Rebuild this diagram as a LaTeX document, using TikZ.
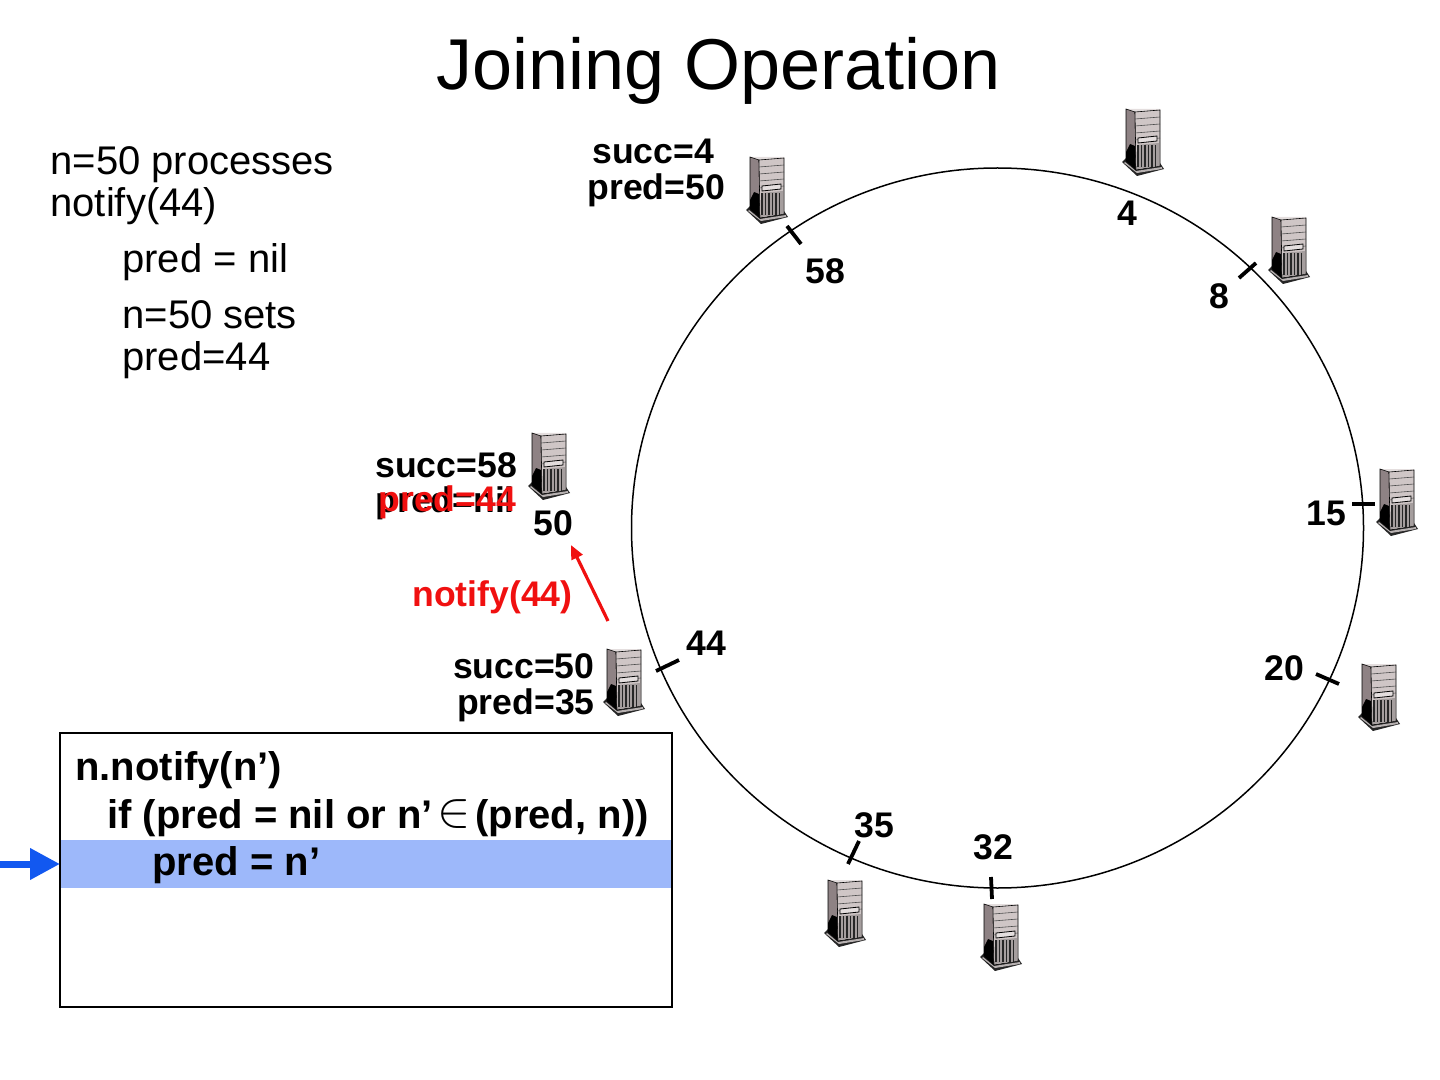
\documentclass[tikz,border=0pt]{standalone}
\usepackage{fontspec}
\setmainfont{Liberation Sans}
\usetikzlibrary{arrows.meta}
\definecolor{hlblue}{HTML}{9DB8FA}
\definecolor{arrowblue}{HTML}{1258F0}
\definecolor{rred}{HTML}{F01010}
\definecolor{srvside}{HTML}{8E8284}
\definecolor{srvfront}{HTML}{CFC6C6}
\definecolor{srvtop}{HTML}{E4DEDE}
\tikzset{
  x=0.5pt,y=-0.5pt,
  titletext/.style={font=\fontsize{36}{36}\selectfont,inner sep=0pt,anchor=base},
  bodytext/.style={font=\fontsize{20}{20}\selectfont,inner sep=0pt,anchor=base west},
  lbl/.style={font=\bfseries\fontsize{17.8}{18}\selectfont,inner sep=0pt,anchor=base},
  lblw/.style={lbl,anchor=base west},
  lble/.style={lbl,anchor=base east},
  codetext/.style={font=\bfseries\fontsize{20}{20}\selectfont,inner sep=0pt,anchor=base west},
  tickmark/.style={line width=1.9pt,black},
  server/.pic={
    \fill[black!85] (-21,20) -- (-17,16) -- (17,21) -- (21,27) -- (-6,34) -- cycle;
    \fill[srvfront!70!gray] (-18,20) -- (-7,29) -- (19,25) -- (19,27) -- (-6,31) -- (-19,21) -- cycle;
    \fill[srvtop] (-17,-33) -- (17,-33) -- (17,-31) -- (-8,-30) -- cycle;
    \fill[srvside,draw=black,line width=0.3pt] (-17,-33) -- (-8,-30) -- (-7,28) -- (-17,19) -- cycle;
    \fill[black] (-13,2) -- (-8,4) -- (-7,28) -- (-17,19) -- (-17,10) -- cycle;
    \fill[srvfront,draw=black,line width=0.3pt] (-8,-30) -- (17,-32) -- (17,24) -- (-7,28) -- cycle;
    \foreach \yy in {-24,-17,-10,-3}{\draw[black!70,line width=0.3pt] (-8,\yy+1) -- (17,\yy-1);}
    \draw[black,line width=0.4pt,fill=srvtop] (-5,-4) -- (14,-6) -- (14,-1) -- (-5,1) -- cycle;
    \fill[srvfront!80!black] (-6,3) -- (16,1) -- (16,24) -- (-6,27) -- cycle;
    \foreach \xx in {-5,-1.5,...,15}{\draw[black!85,line width=0.55pt] (\xx,3) -- (\xx,25);}
  }
}
\begin{document}
\begin{tikzpicture}
\useasboundingbox (0,0) rectangle (1440,1080);
% ring
\draw[black,line width=0.75pt] (997.5,528) ellipse [x radius=366,y radius=360];
% servers
\foreach \cx/\cy/\nm in {1143/142/s4,767/190/s58,1289/250/s8,1397/502/s15,1379/697/s20,1001/937/s32,845/913/s35,624/682/s44,549/466/s50}{
  \pic (\nm) at (\cx,\cy) {server};
}
% ticks
\coordinate (t58a) at (787,226); \coordinate (t58b) at (801,244);
\coordinate (t8a) at (1239,278); \coordinate (t8b) at (1256,263);
\coordinate (t15a) at (1352,504); \coordinate (t15b) at (1375,504);
\coordinate (t20a) at (1316,674); \coordinate (t20b) at (1339,684);
\coordinate (t32a) at (991,877); \coordinate (t32b) at (992,899);
\coordinate (t35a) at (859,841); \coordinate (t35b) at (848,864);
\coordinate (t44a) at (656,671); \coordinate (t44b) at (679,660);
\foreach \t in {t58,t8,t15,t20,t32,t35,t44}{\draw[tickmark] (\t a) -- (\t b);}
% title and notes
\node[titletext] (title) at (719,90) {Joining Operation};
\node[bodytext] (n1) at (50,175) {n=50 processes};
\node[bodytext] (n2) at (50,217) {notify(44)};
\node[bodytext] (n3) at (122,273) {pred = nil};
\node[bodytext] (n4) at (122,329) {n=50 sets};
\node[bodytext] (n5) at (122,371) {pred=44};
% labels
\node[lblw] (a1) at (592,164) {succ=4};
\node[lblw] (a2) at (587,200) {pred=50};
\node[lbl] (l4) at (1127,226) {4};
\node[lbl] (l58) at (825,284) {58};
\node[lbl] (l8) at (1219,309) {8};
\node[lblw] (b1) at (375,477) {succ=58};
\node[lblw] (b2) at (375,512) {pred=nil};
\node[lblw,text=rred] (b3) at (378,511) {pred=44};
\node[lbl] (l50) at (553,535) {50};
\node[lbl] (l15) at (1326,525) {15};
\node[lbl] (l20) at (1284,680) {20};
\node[lbl] (l44) at (706,655) {44};
\node[lblw,text=rred] (nt) at (412,606) {notify(44)};
\node[lble] (c1) at (595,678) {succ=50};
\node[lble] (c2) at (595,714) {pred=35};
\node[lbl] (l35) at (874,837) {35};
\node[lbl] (l32) at (993,859) {32};
% notify arrow
\coordinate (na) at (608,621); \coordinate (nb) at (571,545);
\draw[rred,line width=1.6pt,-{Triangle[length=7pt,width=6pt]}] (na) -- (nb);
% code box
\node[fill=hlblue,inner sep=0pt,outer sep=0pt,minimum width=306pt,minimum height=24pt,anchor=north west] (hl) at (60,840) {};
\node[draw=black,line width=1pt,inner sep=0pt,outer sep=0pt,minimum width=306pt,minimum height=137pt,anchor=north west] (code) at (60,733) {};
\node[codetext] (k1) at (75,780) {n.notify(n’)};
\node[codetext] (k2) at (107,828) {if (pred = nil or n’};
\node[inner sep=0pt,anchor=base west,font=\fontsize{26}{26}\selectfont] (k3) at (437,826) {$\in$};
\node[codetext] (k4) at (475,828) {(pred, n))};
\node[codetext] (k5) at (152,875) {pred = n’};
% blue arrow
\coordinate (ba) at (0,864);
\draw[arrowblue,line width=3.5pt,-{Triangle[length=15pt,width=15pt]}] (ba) -- (hl.west);
\end{tikzpicture}
\end{document}
